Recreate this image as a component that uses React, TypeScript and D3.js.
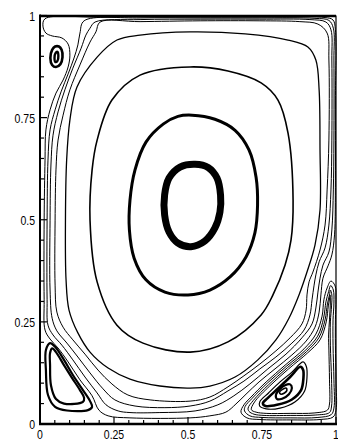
import React from "react";
import * as d3 from "d3";

type Pt = [number, number];

// Streamlines of the lid-driven cavity, in domain units (x, y in [0, 1]).
// Primary vortex, from the core outwards.
const primaryCore: Pt[] = [
  [0.524, 0.636], [0.568, 0.628], [0.598, 0.602], [0.610, 0.560], [0.608, 0.519],
  [0.591, 0.480], [0.557, 0.448], [0.510, 0.434], [0.466, 0.443], [0.436, 0.470],
  [0.421, 0.512], [0.421, 0.561], [0.436, 0.602], [0.473, 0.629],
];

const primaryRing2: Pt[] = [
  [0.514, 0.756], [0.591, 0.746], [0.659, 0.719], [0.706, 0.671], [0.730, 0.604],
  [0.735, 0.536], [0.726, 0.468], [0.696, 0.409], [0.642, 0.360], [0.574, 0.328],
  [0.500, 0.316], [0.422, 0.323], [0.358, 0.353], [0.318, 0.406], [0.302, 0.475],
  [0.304, 0.548], [0.321, 0.622], [0.358, 0.690], [0.416, 0.734], [0.466, 0.753],
];

const primaryRing3: Pt[] = [
  [0.507, 0.874], [0.635, 0.864], [0.747, 0.835], [0.804, 0.793], [0.838, 0.712],
  [0.855, 0.548], [0.848, 0.450], [0.828, 0.389], [0.787, 0.316], [0.747, 0.267],
  [0.635, 0.201], [0.507, 0.176], [0.348, 0.198], [0.260, 0.242], [0.193, 0.348],
  [0.169, 0.499], [0.176, 0.622], [0.193, 0.695], [0.243, 0.793], [0.338, 0.854],
];

const primaryRing4: Pt[] = [
  [0.507, 0.960], [0.693, 0.955], [0.838, 0.940], [0.905, 0.923], [0.932, 0.891],
  [0.943, 0.818], [0.946, 0.671], [0.946, 0.524], [0.929, 0.438], [0.902, 0.372],
  [0.875, 0.316], [0.841, 0.259], [0.797, 0.206], [0.736, 0.157], [0.659, 0.115],
  [0.574, 0.093], [0.507, 0.088], [0.405, 0.093], [0.304, 0.110], [0.230, 0.137],
  [0.169, 0.176], [0.128, 0.223], [0.098, 0.279], [0.088, 0.353], [0.086, 0.499],
  [0.090, 0.646], [0.101, 0.744], [0.125, 0.825], [0.193, 0.898], [0.260, 0.940],
  [0.338, 0.952],
];

// Wall-hugging streamlines that wrap round the corner eddies.
const wallLine1: Pt[] = [
  [0.203, 0.984], [0.338, 0.985], [0.541, 0.987], [0.743, 0.987], [0.878, 0.985],
  [0.939, 0.979], [0.970, 0.957], [0.976, 0.891], [0.976, 0.695], [0.970, 0.573],
  [0.963, 0.487], [0.946, 0.426], [0.922, 0.372], [0.909, 0.348], [0.902, 0.316],
  [0.899, 0.279], [0.885, 0.245], [0.845, 0.211], [0.797, 0.179], [0.743, 0.147],
  [0.689, 0.118], [0.635, 0.091], [0.574, 0.066], [0.507, 0.056], [0.372, 0.059],
  [0.297, 0.071], [0.243, 0.098], [0.196, 0.132], [0.152, 0.171], [0.111, 0.206],
  [0.078, 0.237], [0.057, 0.274], [0.051, 0.340], [0.051, 0.499], [0.054, 0.622],
  [0.061, 0.695], [0.078, 0.756], [0.101, 0.818], [0.135, 0.879], [0.169, 0.935],
  [0.189, 0.960],
];

const wallLine2: Pt[] = [
  [0.186, 0.984], [0.338, 0.990], [0.541, 0.991], [0.743, 0.991], [0.912, 0.990],
  [0.966, 0.984], [0.983, 0.965], [0.986, 0.891], [0.986, 0.695], [0.983, 0.573],
  [0.976, 0.487], [0.963, 0.431], [0.943, 0.397], [0.932, 0.365], [0.926, 0.340],
  [0.919, 0.304], [0.912, 0.267], [0.892, 0.230], [0.851, 0.198], [0.797, 0.164],
  [0.743, 0.135], [0.689, 0.105], [0.635, 0.081], [0.574, 0.056], [0.507, 0.044],
  [0.422, 0.040], [0.321, 0.044], [0.253, 0.059], [0.213, 0.086], [0.169, 0.125],
  [0.128, 0.164], [0.091, 0.198], [0.057, 0.228], [0.041, 0.259], [0.034, 0.328],
  [0.034, 0.499], [0.037, 0.634], [0.044, 0.707], [0.061, 0.764], [0.084, 0.818],
  [0.111, 0.871], [0.139, 0.920], [0.155, 0.952], [0.169, 0.969],
];

const wallLine3: Pt[] = [
  [0.149, 0.987], [0.338, 0.994], [0.541, 0.994], [0.743, 0.994], [0.929, 0.993],
  [0.976, 0.988], [0.991, 0.969], [0.993, 0.891], [0.993, 0.695], [0.991, 0.573],
  [0.986, 0.475], [0.976, 0.421], [0.956, 0.389], [0.946, 0.357], [0.939, 0.323],
  [0.932, 0.284], [0.919, 0.245], [0.885, 0.211], [0.831, 0.171], [0.770, 0.135],
  [0.709, 0.098], [0.655, 0.069], [0.601, 0.047], [0.524, 0.032], [0.405, 0.028],
  [0.304, 0.028], [0.264, 0.032], [0.223, 0.047], [0.193, 0.076], [0.152, 0.115],
  [0.111, 0.157], [0.074, 0.193], [0.044, 0.218], [0.027, 0.242], [0.024, 0.304],
  [0.024, 0.499], [0.027, 0.646], [0.034, 0.720], [0.051, 0.769], [0.071, 0.813],
  [0.095, 0.857], [0.115, 0.896], [0.128, 0.928], [0.135, 0.957],
];

const wallLine4: Pt[] = [
  [0.017, 0.992], [0.203, 0.996], [0.541, 0.996], [0.811, 0.996], [0.963, 0.995],
  [0.990, 0.989], [0.998, 0.965], [0.998, 0.793], [0.998, 0.597], [0.995, 0.463],
  [0.986, 0.414], [0.973, 0.387], [0.956, 0.357], [0.949, 0.316], [0.943, 0.274],
  [0.929, 0.237], [0.899, 0.203], [0.851, 0.169], [0.794, 0.135], [0.740, 0.103],
  [0.696, 0.073], [0.662, 0.049], [0.628, 0.029], [0.574, 0.020], [0.507, 0.015],
  [0.304, 0.015], [0.230, 0.020], [0.199, 0.034], [0.176, 0.069], [0.135, 0.108],
  [0.095, 0.152], [0.061, 0.186], [0.034, 0.208], [0.017, 0.230], [0.014, 0.304],
  [0.014, 0.499], [0.017, 0.646], [0.020, 0.720], [0.034, 0.769], [0.054, 0.810],
  [0.078, 0.842], [0.095, 0.874], [0.101, 0.903], [0.095, 0.930], [0.074, 0.945],
  [0.041, 0.950], [0.020, 0.957], [0.010, 0.974],
];

// Top-left corner eddy.
const topLeftOuter: Pt[] = [
  [0.064, 0.924], [0.073, 0.916], [0.076, 0.898], [0.069, 0.881], [0.054, 0.874],
  [0.041, 0.879], [0.035, 0.896], [0.041, 0.916], [0.051, 0.924],
];
const topLeftInner: Pt[] = [
  [0.059, 0.911], [0.062, 0.901], [0.059, 0.889], [0.052, 0.886], [0.049, 0.896],
  [0.052, 0.907],
];

// Bottom-left corner eddy.
const bottomLeftOuter: Pt[] = [
  [0.034, 0.198], [0.051, 0.189], [0.081, 0.157], [0.111, 0.120], [0.145, 0.083],
  [0.169, 0.056], [0.176, 0.042], [0.162, 0.034], [0.091, 0.033], [0.051, 0.042],
  [0.027, 0.071], [0.020, 0.132], [0.020, 0.181],
];
const bottomLeftInner: Pt[] = [
  [0.041, 0.185], [0.054, 0.176], [0.081, 0.144], [0.108, 0.113], [0.135, 0.083],
  [0.149, 0.064], [0.145, 0.054], [0.081, 0.050], [0.054, 0.061], [0.037, 0.095],
  [0.034, 0.144], [0.034, 0.174],
];

// Bottom-right corner eddy: the outer band, then the nested cells.
const bottomRightBand1: Pt[] = [
  [0.845, 0.010], [0.743, 0.011], [0.699, 0.015], [0.679, 0.029], [0.689, 0.047],
  [0.713, 0.066], [0.764, 0.103], [0.828, 0.144], [0.892, 0.184], [0.932, 0.220],
  [0.953, 0.264], [0.959, 0.304], [0.970, 0.333], [0.983, 0.350], [0.997, 0.338],
  [1.000, 0.304], [0.998, 0.255], [0.998, 0.193], [1.000, 0.108], [1.000, 0.034],
  [0.990, 0.017], [0.946, 0.011],
];
const bottomRightBand2: Pt[] = [
  [0.845, 0.015], [0.750, 0.016], [0.709, 0.020], [0.691, 0.032], [0.693, 0.043],
  [0.717, 0.063], [0.768, 0.100], [0.832, 0.141], [0.896, 0.180], [0.938, 0.215],
  [0.958, 0.259], [0.966, 0.299], [0.975, 0.324], [0.982, 0.339], [0.991, 0.328],
  [0.993, 0.296], [0.990, 0.255], [0.990, 0.193], [0.993, 0.108], [0.993, 0.039],
  [0.984, 0.023], [0.939, 0.016],
];
const bottomRightBand3: Pt[] = [
  [0.845, 0.021], [0.757, 0.021], [0.723, 0.024], [0.706, 0.031], [0.703, 0.039],
  [0.721, 0.058], [0.772, 0.096], [0.836, 0.138], [0.900, 0.177], [0.942, 0.211],
  [0.963, 0.255], [0.971, 0.294], [0.978, 0.316], [0.981, 0.328], [0.986, 0.316],
  [0.985, 0.289], [0.981, 0.250], [0.981, 0.193], [0.985, 0.108], [0.985, 0.044],
  [0.978, 0.028], [0.932, 0.022],
];
const bottomRightBand4: Pt[] = [
  [0.845, 0.026], [0.764, 0.026], [0.730, 0.029], [0.714, 0.035], [0.725, 0.054],
  [0.776, 0.093], [0.840, 0.135], [0.904, 0.174], [0.946, 0.206], [0.967, 0.250],
  [0.974, 0.289], [0.978, 0.306], [0.980, 0.316], [0.981, 0.301], [0.978, 0.255],
  [0.975, 0.218], [0.976, 0.181], [0.978, 0.108], [0.978, 0.049], [0.971, 0.034],
  [0.926, 0.027],
];
const bottomRightLobe: Pt[] = [
  [0.889, 0.152], [0.851, 0.127], [0.811, 0.103], [0.772, 0.076], [0.743, 0.055],
  [0.742, 0.044], [0.764, 0.037], [0.811, 0.039], [0.861, 0.054], [0.894, 0.081],
  [0.902, 0.115], [0.900, 0.140],
];
const bottomRightRing: Pt[] = [
  [0.880, 0.140], [0.845, 0.115], [0.806, 0.088], [0.770, 0.064], [0.753, 0.051],
  [0.762, 0.044], [0.801, 0.047], [0.851, 0.060], [0.882, 0.083], [0.890, 0.113],
  [0.889, 0.132],
];
const bottomRightInner: Pt[] = [
  [0.845, 0.097], [0.851, 0.088], [0.841, 0.073], [0.818, 0.062], [0.801, 0.061],
  [0.797, 0.071], [0.811, 0.086], [0.828, 0.095],
];
const bottomRightCore: Pt[] = [
  [0.831, 0.088], [0.834, 0.082], [0.826, 0.076], [0.814, 0.073], [0.809, 0.077],
  [0.818, 0.084],
];

// Axis ticks and their labels.
const tickValues = [0, 0.25, 0.5, 0.75, 1];
const tickLabels = ["0", "0.25", "0.5", "0.75", "1"];

const WIDTH = 338;
const HEIGHT = 442;
const FONT = "'Liberation Sans', Arial, Helvetica, sans-serif";

export default function App() {
  const x = d3.scaleLinear().domain([0, 1]).range([40, 336]);
  const y = d3.scaleLinear().domain([0, 1]).range([424, 15.5]);

  const path = d3
    .line<Pt>()
    .x((d) => x(d[0]))
    .y((d) => y(d[1]))
    .curve(d3.curveCatmullRomClosed.alpha(0.5));

  const lines: { pts: Pt[]; w: number }[] = [
    { pts: primaryCore, w: 7 },
    { pts: primaryRing2, w: 3 },
    { pts: primaryRing3, w: 1.6 },
    { pts: primaryRing4, w: 1.3 },
    { pts: wallLine1, w: 1 },
    { pts: wallLine2, w: 1 },
    { pts: wallLine3, w: 1 },
    { pts: wallLine4, w: 1 },
    { pts: topLeftOuter, w: 2.6 },
    { pts: topLeftInner, w: 2.4 },
    { pts: bottomLeftOuter, w: 2.2 },
    { pts: bottomLeftInner, w: 2.2 },
    { pts: bottomRightBand1, w: 1 },
    { pts: bottomRightBand2, w: 1 },
    { pts: bottomRightBand3, w: 1 },
    { pts: bottomRightBand4, w: 1 },
    { pts: bottomRightLobe, w: 1.2 },
    { pts: bottomRightRing, w: 2.6 },
    { pts: bottomRightInner, w: 2.2 },
    { pts: bottomRightCore, w: 1.6 },
  ];

  const minorTicks = x.ticks(20).filter((t) => !tickValues.some((v) => Math.abs(v - t) < 1e-9));

  const [x0, x1] = x.range();
  const [y0, y1] = y.range();

  return (
    <svg
      width={WIDTH}
      height={HEIGHT}
      viewBox={`0 0 ${WIDTH} ${HEIGHT}`}
      style={{ position: "absolute", left: 0, top: 0, background: "#fff" }}
    >
      <rect width={WIDTH} height={HEIGHT} fill="#fff" />
      <g fill="none" stroke="#000" strokeLinejoin="round">
        {lines.map((l, i) => (
          <path key={i} d={path(l.pts) ?? ""} strokeWidth={l.w} />
        ))}
      </g>

      {/* frame */}
      <g stroke="#000" fill="none">
        <line x1={x0} x2={x1} y1={y1 + 0.5} y2={y1 + 0.5} strokeWidth={2.6} />
        <line x1={x1} x2={x1} y1={y1} y2={y0} strokeWidth={1.2} />
        <line x1={x0} x2={x0} y1={y1 - 1} y2={y0 + 1} strokeWidth={2} />
        <line x1={x0 - 1} x2={x1 + 1} y1={y0} y2={y0} strokeWidth={2.4} />
      </g>

      {/* ticks */}
      <g stroke="#000" strokeWidth={1.2}>
        {tickValues.map((t) => (
          <line key={`xM${t}`} x1={x(t)} x2={x(t)} y1={y0} y2={y0 - 7} />
        ))}
        {minorTicks.map((t) => (
          <line key={`xm${t}`} x1={x(t)} x2={x(t)} y1={y0} y2={y0 - 4} />
        ))}
        {tickValues.map((t) => (
          <line key={`yM${t}`} x1={x0} x2={x0 + 7} y1={y(t)} y2={y(t)} />
        ))}
        {minorTicks.map((t) => (
          <line key={`ym${t}`} x1={x0} x2={x0 + 4} y1={y(t)} y2={y(t)} />
        ))}
      </g>

      {/* tick labels */}
      <g fontFamily={FONT} fontSize={10.5} fill="#000">
        {tickValues.map((t, i) => (
          <text
            key={`xl${t}`}
            transform={`translate(${x(t)},438.5) scale(1,1.3)`}
            textAnchor="middle"
          >
            {tickLabels[i]}
          </text>
        ))}
        {tickValues.map((t, i) => (
          <text
            key={`yl${t}`}
            transform={`translate(35,${y(t) + 5}) scale(1,1.3)`}
            textAnchor="end"
          >
            {tickLabels[i]}
          </text>
        ))}
      </g>
    </svg>
  );
}
